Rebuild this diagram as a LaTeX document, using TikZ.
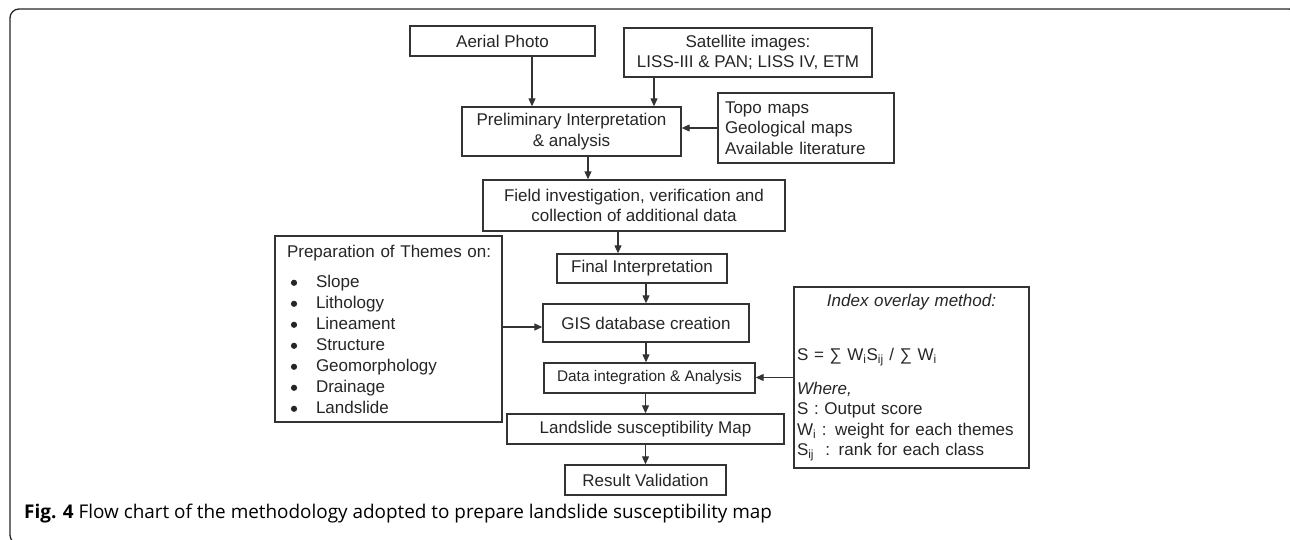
\documentclass[tikz,border=0pt]{standalone}
\usepackage{fontspec}
\setmainfont{Liberation Sans}
\newfontfamily\capfont{Open Sans}
\usepackage{xcolor}
\usepackage{tikz}
\usetikzlibrary{positioning, arrows.meta}

\newcommand{\ind}{\hspace*{29pt}}

\begin{document}
\begin{tikzpicture}[x=1pt, y=-1pt,
      arr/.style={-{Triangle[length=8pt,width=7pt]}, line width=1.2pt, black!80},
      boxnode/.style={rectangle, draw=black!80, line width=1.4pt, fill=white,
          align=center, inner sep=0pt, text=black!85,
          font=\fontsize{17}{20.5}\selectfont},
      listnode/.style={boxnode, align=left},
    ]
    \useasboundingbox (0,0) rectangle (1290,540);

    %% ── FRAME ───────────────────────────────────────────────────────────────
    \begin{scope}
      \clip (0,0) rectangle (1290,540);
      \draw[black!85, line width=1.3pt, rounded corners=9pt] (10,9) rectangle (1298,544);
    \end{scope}

    %% ── SOURCES  (y=41..128) ────────────────────────────────────────────────
    \node[boxnode, minimum width=185pt, minimum height=30pt] at (502.5, 41) (aerial)
    {Aerial Photo};
    \node[boxnode, minimum width=248pt, minimum height=49pt] at (748, 52.5) (satellite)
    {Satellite images:\\LISS-III \& PAN; LISS IV, ETM};
    \node[boxnode, minimum width=219pt, minimum height=49pt] at (571.5, 131.5) (prelim)
    {Preliminary Interpretation\\\& analysis};
    \node[listnode, minimum width=176pt, minimum height=70pt, text width=162pt,
      inner xsep=7pt] at (806, 128) (topo)
    {Topo maps\\Geological maps\\Available literature};

    %% ── MAIN CHAIN ──────────────────────────────────────────────────────────
    \node[boxnode, minimum width=302pt, minimum height=51pt] at (634, 205.5) (field)
    {Field investigation, verification and\\collection of additional data};
    \node[boxnode, minimum width=170pt, minimum height=29pt] at (642, 268.5) (final)
    {Final Interpretation};
    \node[boxnode, minimum width=206pt, minimum height=38pt] at (646, 323) (gis)
    {GIS database creation};
    \node[boxnode, minimum width=211pt, minimum height=30pt,
      font=\fontsize{15.4}{18}\selectfont] at (649.5, 378) (integration)
    {Data integration \& Analysis};
    \node[boxnode, minimum width=277pt, minimum height=30pt] at (645.5, 429) (suscmap)
    {Landslide susceptibility Map};
    \node[boxnode, minimum width=161pt, minimum height=30pt] at (645.5, 480) (validation)
    {Result Validation};

    %% ── SIDE BOXES ──────────────────────────────────────────────────────────
    \node[listnode, minimum width=227pt, minimum height=186pt, text width=203pt,
      inner xsep=12pt, font=\fontsize{17}{21}\selectfont] at (388.5, 329) (themes)
    {\mbox{Preparation of Themes on:}\\[9pt]
    \ind Slope\\ \ind Lithology\\ \ind Lineament\\ \ind Structure\\
    \ind Geomorphology\\ \ind Drainage\\ \ind Landslide};
    % bullets of the theme list
    \foreach \k in {0,...,6}
      \fill[black!85] (294, 282.8+21*\k) circle (3.1pt);

    \node[listnode, minimum width=235pt, minimum height=181pt, text width=229pt,
      inner xsep=3pt] at (911.5, 377.5) (overlay)
    {\makebox[\linewidth][c]{\itshape Index overlay method:}\\[34pt]
    S = ∑ W\textsubscript{i}S\textsubscript{ij} / ∑ W\textsubscript{i}\\[13pt]
    \textit{Where,}\\
    S : Output score\\
    W\textsubscript{i} : weight for each themes\\
    S\textsubscript{ij}\ \ : rank for each class};

    %% ── CAPTION ─────────────────────────────────────────────────────────────
    \node[anchor=base west, inner sep=0pt, text=black,
      font=\capfont\fontsize{18.9}{21}\selectfont] at (24, 518) (caption)
    {\textbf{Fig. 4} Flow chart of the methodology adopted to prepare landslide susceptibility map};

    %% ── ARROWS ──────────────────────────────────────────────────────────────
    \draw[arr] ([xshift=29.5pt]aerial.south) -- ([xshift=29.5pt]aerial.south |- prelim.north);
    \draw[arr] ([xshift=-94pt]satellite.south) -- ([xshift=-94pt]satellite.south |- prelim.north);
    \draw[arr] (topo.west)       -- (topo.west -| prelim.east);
    \draw[arr] ([xshift=16.5pt]prelim.south) -- ([xshift=16.5pt]prelim.south |- field.north);
    \draw[arr] ([xshift=-16pt]field.south) -- ([xshift=-16pt]field.south |- final.north);
    \draw[arr] (final.south -| gis.north) -- (gis.north);
    \draw[arr] (gis.south)       -- (gis.south |- integration.north);
    \draw[arr] (integration.south -| suscmap.north) -- (suscmap.north);
    \draw[arr] (suscmap.south)   -- (validation.north);
    \draw[arr] ([yshift=-4pt]gis.west -| themes.east) -- ([yshift=-4pt]gis.west);
    \draw[arr] (overlay.west)    -- (overlay.west -| integration.east);

  \end{tikzpicture}
\end{document}
